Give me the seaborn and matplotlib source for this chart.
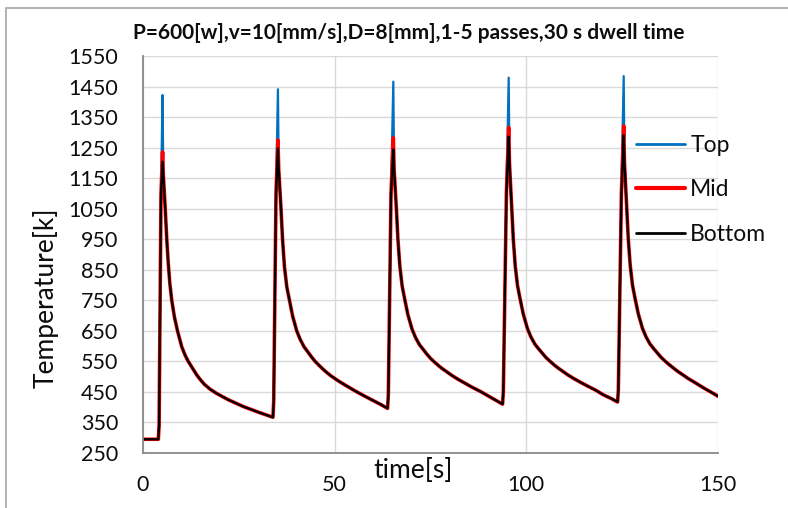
import pandas as pd
import numpy as np
import matplotlib
matplotlib.use("Agg")
import matplotlib.pyplot as plt
import seaborn as sns
from matplotlib.lines import Line2D
from matplotlib.patches import Rectangle

# DATA
# time [s] / temperature [K] where the three probes lie on top of each other
time = [0, 4.0, 4.2, 4.7,
        5.3, 5.8, 6.2, 6.6, 7.0, 7.5, 8.2, 9.0, 10.1, 11.0, 11.8, 13.0, 14.0, 14.9, 16.0, 17.5, 19.2, 22.3, 26.2, 30.0, 33.9,
        34.1, 34.7,
        35.4, 36.0, 36.4, 36.9, 37.5, 38.2, 39.0, 40.1, 41.0, 42.0, 43.0, 44.0, 44.9, 46.0, 47.0, 48.0, 49.0, 50.6,
        52.0, 54.0, 55.8, 58.0, 60.0, 62.0, 63.8,
        64.0, 64.7,
        65.5, 66.1, 66.5, 67.0, 67.6, 68.3, 69.1, 70.2, 71.1, 72.1, 73.1, 74.1, 75.0, 76.1, 77.1, 78.1, 79.1, 80.7,
        82.1, 84.1, 85.9, 88.1, 89.9, 92.1, 93.8,
        94.0, 94.8,
        95.6, 96.2, 96.6, 97.1, 97.7, 98.4, 99.2, 100.3, 101.2, 102.2, 103.2, 104.2, 105.1, 106.2, 107.2, 108.2, 109.2,
        110.8, 112.2, 114.2, 116.0, 118.2, 120.0, 122.2, 123.8,
        124.0, 124.8,
        125.6, 126.2, 126.6, 127.1, 127.7, 128.4, 129.2, 130.3, 131.2, 132.2, 133.2, 134.2, 135.1, 136.2, 137.2, 138.2,
        139.2, 140.8, 142.2, 144.2, 146.0, 148.2, 150.0]
temp = [295, 295, 340, 1100,
        1160, 1050, 950, 870, 805, 750, 695, 650, 598, 570, 550, 526, 506, 491, 475, 459, 445, 424, 402, 384, 367,
        420, 1100,
        1180, 1050, 950, 860, 795, 750, 700, 650, 622, 598, 581, 564, 550, 536, 524, 513, 503, 489,
        478, 463, 450, 435, 422, 409, 396,
        440, 1100,
        1180, 1050, 950, 862, 797, 752, 703, 655, 628, 605, 589, 573, 560, 547, 536, 526, 517, 503,
        492, 478, 465, 451, 438, 422, 410,
        450, 1100,
        1200, 1050, 950, 863, 798, 753, 705, 657, 630, 607, 591, 576, 563, 550, 539, 529, 520,
        506, 495, 481, 469, 455, 441, 428, 417,
        455, 1100,
        1200, 1050, 950, 864, 799, 754, 706, 658, 631, 608, 592, 577, 564, 551, 540, 530,
        520, 506, 494, 479, 465, 449, 436]

# peak of every pass, where the probes split up
peak_time = [5.1, 35.2, 65.3, 95.4, 125.4]
peak_top = [1422, 1441, 1466, 1479, 1484]
peak_mid = [1236, 1275, 1282, 1316, 1321]
peak_bottom = [1204, 1248, 1244, 1286, 1291]

series = ["Top", "Mid", "Bottom"]
peaks = {"Top": peak_top, "Mid": peak_mid, "Bottom": peak_bottom}
colors = {"Top": "#0070C0", "Mid": "#FF0000", "Bottom": "#000000"}
widths = {"Top": 1.6, "Mid": 2.6, "Bottom": 1.6}

frames = []
for s in series:
    d = pd.DataFrame({"time": time + peak_time, "temp": temp + peaks[s]})
    d["probe"] = s
    frames.append(d.sort_values("time"))
df = pd.concat(frames, ignore_index=True)

# PLOT
sns.set_style("white")
plt.rcParams["font.family"] = ["Lato", "DejaVu Sans"]
ink = "#0d0d0d"

fig = plt.figure(figsize=(7.88, 5.08), dpi=100)
ax = fig.add_axes([143 / 788, 55 / 508, 575 / 788, 397 / 508])

for s in series:
    sns.lineplot(data=df[df["probe"] == s], x="time", y="temp", color=colors[s],
                 linewidth=widths[s], sort=False, ax=ax, legend=False, zorder=3)

ax.set_xlim(0, 150)
ax.set_ylim(250, 1550)
ax.set_xticks([0, 50, 100, 150])
ax.set_yticks(np.arange(250, 1551, 100))
ax.grid(True, color="#d9d9d9", linewidth=1.0, zorder=0)
ax.tick_params(axis="both", length=0, labelsize=15.5, colors=ink)
ax.tick_params(axis="y", pad=18)
ax.tick_params(axis="x", pad=16)
for sp in ["top", "right"]:
    ax.spines[sp].set_visible(False)
for sp in ["left", "bottom"]:
    ax.spines[sp].set_color("#898989")
    ax.spines[sp].set_linewidth(1.3)
    ax.spines[sp].set_zorder(4)

ax.set_xlabel("time[s]", fontsize=19, color=ink)
ax.xaxis.set_label_coords((413 - 143) / 575, (453 - 470) / 397)
ax.xaxis.label.set_va("center")
ax.set_ylabel("Temperature[k]", fontsize=19, color=ink)
ax.yaxis.set_label_coords((46 - 143) / 575, (453 - 298) / 397)
ax.yaxis.label.set_va("center")

ax.text((409 - 143) / 575, (453 - 33) / 397,
        "P=600[w],v=10[mm/s],D=8[mm],1-5 passes,30 s dwell time",
        transform=ax.transAxes, ha="center", va="center",
        fontsize=15, fontweight="bold", color=ink)

handles = [Line2D([], [], color=colors[s], linewidth=widths[s] + 0.4) for s in series]
ax.legend(handles, series, loc="center left", bbox_to_anchor=((636 - 143) / 575, (453 - 190) / 397),
          frameon=False, fontsize=16.5, handlelength=2.15, handletextpad=0.22,
          labelspacing=1.03, borderpad=0, borderaxespad=0, labelcolor=ink)

# outer chart border
fig.patches.append(Rectangle((6 / 788, -0.05), 1.1, (508 - 8) / 508 + 0.05, transform=fig.transFigure,
                             fill=False, edgecolor="#a6a6a6", linewidth=1.2))

fig.savefig("out.png", dpi=100)
